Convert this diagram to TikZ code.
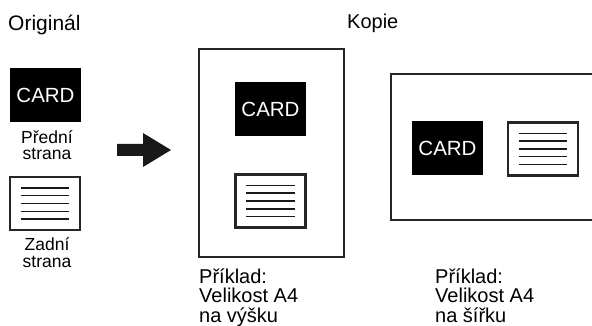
\documentclass[tikz,border=0pt]{standalone}
\usepackage{fontspec}
\setmainfont{Liberation Sans}
\begin{document}
\begin{tikzpicture}[x=1pt, y=-1pt, line join=miter, font=\fontsize{20}{20}\selectfont,
	cardfront/.style={fill=black, text=white, minimum width=71pt, minimum height=54pt, inner sep=0pt, font=\fontsize{20.5}{20}\selectfont},
	cardback/.style={draw=black!85, line width=2.4pt, fill=white, minimum width=70pt, minimum height=53pt, inner sep=0pt},
	page/.style={draw=black!85, line width=1.3pt},
	caption/.style={align=center, anchor=base, font=\fontsize{17.5}{16.5}\selectfont},
	note/.style={align=left, anchor=base west, font=\fontsize{20}{19.5}\selectfont}]
	\useasboundingbox (0,0) rectangle (592,326);
	% nadpisy
	\node[anchor=base west, inner sep=0pt, font=\fontsize{21}{21}\selectfont] (orig) at (8,31) {Originál};
	\node[anchor=base west, inner sep=0pt] (kopie) at (347,29) {Kopie};
	% originál
	\node[cardfront] (frontO) at (45.5,95) {CARD};
	\node[caption, inner sep=0pt] (frontOtxt) at (47,160) {Přední\\strana};
	\node[cardback] (backO) at (45,203.5) {};
	\foreach \k in {-2,...,2}
		\draw[line width=1.4pt, black!90] ([xshift=12pt, yshift=-7.8*\k]backO.west) -- ([xshift=-12pt, yshift=-7.8*\k]backO.east);
	\node[caption, inner sep=0pt] (backOtxt) at (47,267) {Zadní\\strana};
	% šipka
	\fill[black!90] (117,144) -- (143,144) -- (143,133) -- (171,150) -- (143,167) -- (143,156) -- (117,156) -- cycle;
	% kopie na výšku
	\draw[page] (199,49) rectangle (344,257);
	\node[cardfront] (frontP) at (270.5,109) {CARD};
	\node[cardback] (backP) at (270.5,201) {};
	\foreach \k in {-2,...,2}
		\draw[line width=1.4pt, black!90] ([xshift=12pt, yshift=-7.8*\k]backP.west) -- ([xshift=-12pt, yshift=-7.8*\k]backP.east);
	\node[note, inner sep=0pt] (noteP) at (199,322) {Příklad:\\Velikost A4\\na výšku};
	% kopie na šířku
	\draw[page] (600,74) -- (391,74) -- (391,220) -- (600,220);
	\node[cardfront] (frontL) at (447.5,148) {CARD};
	\node[cardback] (backL) at (543,149) {};
	\foreach \k in {-2,...,2}
		\draw[line width=1.4pt, black!90] ([xshift=12pt, yshift=-7.8*\k]backL.west) -- ([xshift=-12pt, yshift=-7.8*\k]backL.east);
	\node[note, inner sep=0pt] (noteL) at (435,322) {Příklad:\\Velikost A4\\na šířku};
\end{tikzpicture}
\end{document}
